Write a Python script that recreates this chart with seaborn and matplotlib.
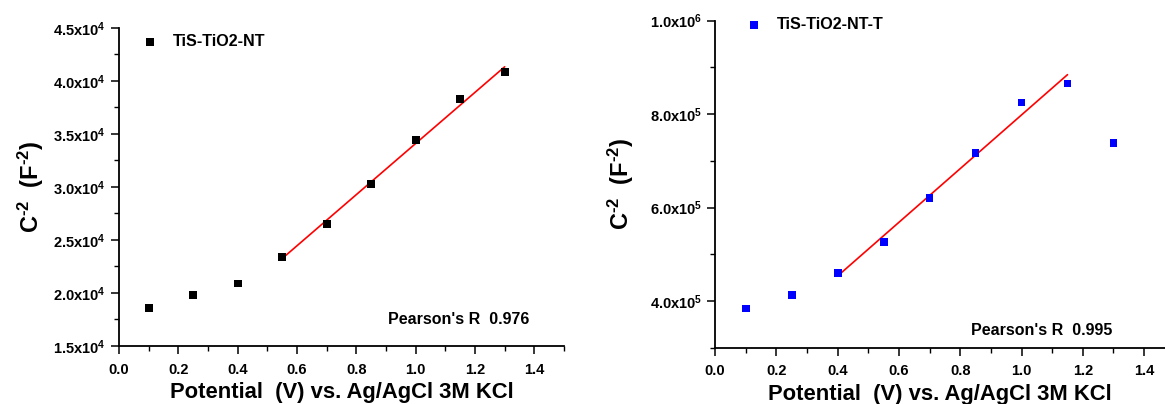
import numpy as np
import pandas as pd
import matplotlib
matplotlib.use("Agg")
import matplotlib.pyplot as plt
from matplotlib.ticker import MultipleLocator, FixedLocator, FuncFormatter
import seaborn as sns

# Mott-Schottky data: applied potential (V vs Ag/AgCl) and C^-2 (F^-2)
potential = [0.10, 0.25, 0.40, 0.55, 0.70, 0.85, 1.00, 1.15, 1.30]
c2_nt = [1.856e4, 1.980e4, 2.090e4, 2.342e4, 2.654e4, 3.025e4, 3.440e4, 3.827e4, 4.088e4]
c2_nt_t = [3.84e5, 4.12e5, 4.60e5, 5.27e5, 6.20e5, 7.16e5, 8.25e5, 8.655e5, 7.38e5]

label_nt = "TiS-TiO2-NT"
label_nt_t = "TiS-TiO2-NT-T"
pearson_nt = "Pearson's R  0.976"
pearson_nt_t = "Pearson's R  0.995"

# linear-fit windows (potential range used for the flat-band fit)
fit_nt = (0.55, 1.30)
fit_nt_t = (0.40, 1.15)

sns.set_style("ticks", {"axes.edgecolor": "black", "text.color": "black",
                        "axes.labelcolor": "black", "xtick.color": "black",
                        "ytick.color": "black"})
plt.rcParams["font.family"] = ["Liberation Sans", "DejaVu Sans"]
plt.rcParams["font.weight"] = "bold"
plt.rcParams["mathtext.fontset"] = "custom"
plt.rcParams["mathtext.rm"] = "Liberation Sans:bold"
plt.rcParams["mathtext.bf"] = "Liberation Sans:bold"
plt.rcParams["mathtext.it"] = "Liberation Sans:bold"
plt.rcParams["mathtext.default"] = "rm"

df_nt = pd.DataFrame({"E": potential, "C2": c2_nt})
df_nt_t = pd.DataFrame({"E": potential, "C2": c2_nt_t})

fig = plt.figure(figsize=(11.65, 4.04), dpi=100)
ax1 = fig.add_axes([0.1021, 0.1436, 0.3820, 0.7871])
ax2 = fig.add_axes([0.6137, 0.1394, 0.3863, 0.8094])


def sci_fmt(v, pos):
    exp = int(np.floor(np.log10(abs(v))))
    mant = v / 10 ** exp
    return f"{mant:.1f}x10$^{{{exp}}}$"


def draw(ax, df, color, label, fit, pearson, ylim, ymaj, ymin, xmax, ptxt, ylpad, leg_anchor):
    sns.scatterplot(data=df, x="E", y="C2", ax=ax, marker="s", s=32,
                    color=color, edgecolor="none", label=label, zorder=3)
    sub = df[(df["E"] >= fit[0] - 1e-9) & (df["E"] <= fit[1] + 1e-9)]
    sns.regplot(data=sub, x="E", y="C2", ax=ax, scatter=False, ci=None,
                line_kws={"color": "red", "lw": 1.2}, truncate=True)
    ax.set_xlim(0, xmax)
    ax.set_ylim(*ylim)
    ax.xaxis.set_major_locator(FixedLocator(np.round(np.arange(0, 1.41, 0.2), 2)))
    ax.xaxis.set_minor_locator(MultipleLocator(0.1))
    ax.yaxis.set_major_locator(MultipleLocator(ymaj))
    ax.yaxis.set_minor_locator(MultipleLocator(ymin))
    ax.xaxis.set_major_formatter(FuncFormatter(lambda v, p: f"{v:.1f}"))
    ax.yaxis.set_major_formatter(FuncFormatter(sci_fmt))
    ax.tick_params(which="major", length=6, width=1.1, labelsize=10.5, direction="out")
    ax.tick_params(axis="x", which="major", pad=6)
    ax.tick_params(which="minor", length=3.5, width=1.0, direction="out")
    sns.despine(ax=ax)
    for sp in ("left", "bottom"):
        ax.spines[sp].set_linewidth(1.3)
    ax.set_xlabel("Potential  (V) vs. Ag/AgCl 3M KCl", fontsize=15.8, fontweight="bold", labelpad=4)
    ax.set_ylabel("C$^{\\text{-}2}$  (F$^{\\text{-}2}$)", fontsize=17, fontweight="bold", labelpad=ylpad)
    ax.legend(loc="upper left", frameon=False, handletextpad=0.45,
              borderaxespad=0.2, bbox_to_anchor=leg_anchor, prop={"weight": "bold", "size": 11.6})
    ax.text(ptxt[0], ptxt[1], pearson, transform=ax.transAxes, fontsize=11.5,
            fontweight="bold", va="center", ha="left")


draw(ax1, df_nt, "black", label_nt, fit_nt, pearson_nt, (1.5e4, 4.5e4), 0.5e4, 0.25e4, 1.5,
     (0.604, 0.082), 5, (0.011, 1.01))
draw(ax2, df_nt_t, "#0000ff", label_nt_t, fit_nt_t, pearson_nt_t, (3.0e5, 1.0e6), 2e5, 1e5, 1.468,
     (0.569, 0.054), 10, (0.029, 1.04))

fig.savefig("out.png", dpi=100)
